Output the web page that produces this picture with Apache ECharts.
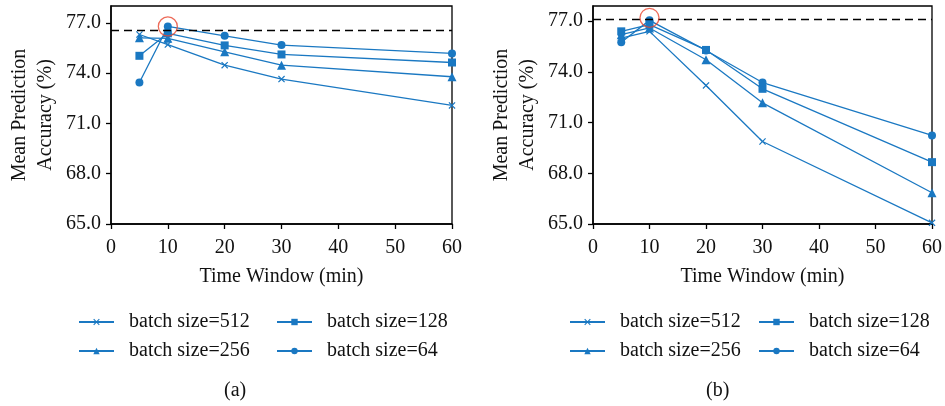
<!DOCTYPE html>
<html>
<head>
<meta charset="utf-8">
<script src="https://cdn.jsdelivr.net/npm/echarts@6/dist/echarts.min.js"></script>
<style>
  html, body { margin: 0; padding: 0; background: #fff; }
  #main { width: 945px; height: 406px; }
</style>
</head>
<body>
<div id="main"></div>
<script>
    var timeWindows = [5, 10, 20, 30, 60];
    var seriesNames = ['batch size=512', 'batch size=256', 'batch size=128', 'batch size=64'];

    // (a)
    var a512 = [76.3, 75.7, 74.47, 73.64, 72.07];
    var a256 = [76.1, 76.07, 75.27, 74.47, 73.78];
    var a128 = [75.03, 76.37, 75.65, 75.11, 74.63];
    var a64 = [73.44, 76.78, 76.22, 75.67, 75.17];
    var aBest = [10, 76.78];
    var aRef = 76.55;

    // (b)
    var b512 = [76.0, 76.4, 73.2, 69.88, 65.07];
    var b256 = [76.2, 76.6, 74.72, 72.17, 66.85];
    var b128 = [76.4, 76.8, 75.3, 73.0, 68.66];
    var b64 = [75.75, 77.05, 75.27, 73.37, 70.24];
    var bBest = [10, 77.2];
    var bRef = 77.12;

    var xTicks = [0, 10, 20, 30, 40, 50, 60];
    var yTicks = [65, 68, 71, 74, 77];

    var blue = '#1a78c2';
    var font = 'Liberation Serif';
    var crossPath = 'path://M0,1.2L1.2,0L5,3.8L8.8,0L10,1.2L6.2,5L10,8.8L8.8,10L5,6.2L1.2,10L0,8.8L3.8,5Z';
    var symbols = [crossPath, 'triangle', 'rect', 'circle'];
    var symbolSizes = [7, 9, 8, 8];

    var chart = echarts.init(document.getElementById('main'));

    function pairs(vals) {
        return vals.map(function (v, i) { return [timeWindows[i], v]; });
    }

    function makeX(gi) {
        return {
            type: 'value', gridIndex: gi, min: 0, max: 60, interval: 10,
            name: 'Time Window (min)', nameLocation: 'middle', nameGap: 43,
            nameTextStyle: { fontFamily: font, fontSize: 20, color: '#111' },
            axisLine: { show: true, lineStyle: { color: '#000', width: 1.5 } },
            axisTick: { show: true, inside: false, length: 5, customValues: xTicks, lineStyle: { color: '#000', width: 1.3 } },
            axisLabel: { fontFamily: font, fontSize: 20, color: '#111', margin: 14, customValues: xTicks },
            splitLine: { show: false }
        };
    }

    function makeY(gi, maxV) {
        return {
            type: 'value', gridIndex: gi, min: 65, max: maxV,
            name: 'Mean Prediction\nAccuracy (%)', nameLocation: 'middle', nameGap: 52,
            nameRotate: 90,
            nameTextStyle: { fontFamily: font, fontSize: 20, color: '#111', lineHeight: 26 },
            axisLine: { show: true, lineStyle: { color: '#000', width: 1.5 } },
            axisTick: { show: true, inside: false, length: 5, customValues: yTicks, lineStyle: { color: '#000', width: 1.3 } },
            axisLabel: {
                fontFamily: font, fontSize: 20, color: '#111', margin: 10, customValues: yTicks,
                formatter: function (v) { return v.toFixed(1); }
            },
            splitLine: { show: false }
        };
    }

    function makeSeries(gi, data, refY, best) {
        var out = data.map(function (vals, k) {
            var s = {
                name: seriesNames[k], type: 'line', xAxisIndex: gi, yAxisIndex: gi,
                data: pairs(vals), symbol: symbols[k], symbolSize: symbolSizes[k],
                showAllSymbol: true, clip: false,
                lineStyle: { color: blue, width: 1.3 },
                itemStyle: { color: blue },
                z: 3
            };
            if (k === 0) {
                s.markLine = {
                    silent: true, symbol: ['none', 'none'], label: { show: false },
                    lineStyle: { color: '#000', type: [8, 5], width: 1.3 },
                    data: [{ yAxis: refY }]
                };
            }
            return s;
        });
        out.push({
            type: 'scatter', xAxisIndex: gi, yAxisIndex: gi, silent: true,
            data: [best], symbol: 'circle', symbolSize: 19, z: 5,
            itemStyle: { color: 'rgba(0,0,0,0)', borderColor: '#e8462f', borderWidth: 1.3 }
        });
        return out;
    }

    function makeLegend(left, names) {
        return {
            orient: 'vertical', left: left, top: 312, padding: 0,
            itemWidth: 35, itemHeight: 8, itemGap: 9,
            data: names,
            textStyle: { fontFamily: font, fontSize: 20, color: '#111', lineHeight: 20, padding: [0, 0, 0, 10] }
        };
    }

    var option = {
        backgroundColor: '#fff',
        animation: false,
        grid: [
            { left: 111, right: 493, top: 6, bottom: 182, show: true, borderColor: '#000', borderWidth: 1.3 },
            { left: 593, right: 9, top: 6, bottom: 182, show: true, borderColor: '#000', borderWidth: 1.3 }
        ],
        xAxis: [makeX(0), makeX(1)],
        yAxis: [makeY(0, 78), makeY(1, 77.9)],
        legend: [
            makeLegend(78, [seriesNames[0], seriesNames[1]]),
            makeLegend(276, [seriesNames[2], seriesNames[3]]),
            makeLegend(569, [seriesNames[0], seriesNames[1]]),
            makeLegend(758, [seriesNames[2], seriesNames[3]])
        ],
        graphic: [
            { type: 'text', left: 224, top: 381, style: { text: '(a)', font: '20px ' + font, fill: '#111' } },
            { type: 'text', left: 706, top: 381, style: { text: '(b)', font: '20px ' + font, fill: '#111' } }
        ],
        series: makeSeries(0, [a512, a256, a128, a64], aRef, aBest)
            .concat(makeSeries(1, [b512, b256, b128, b64], bRef, bBest))
    };

    chart.setOption(option);
</script>
</body>
</html>
